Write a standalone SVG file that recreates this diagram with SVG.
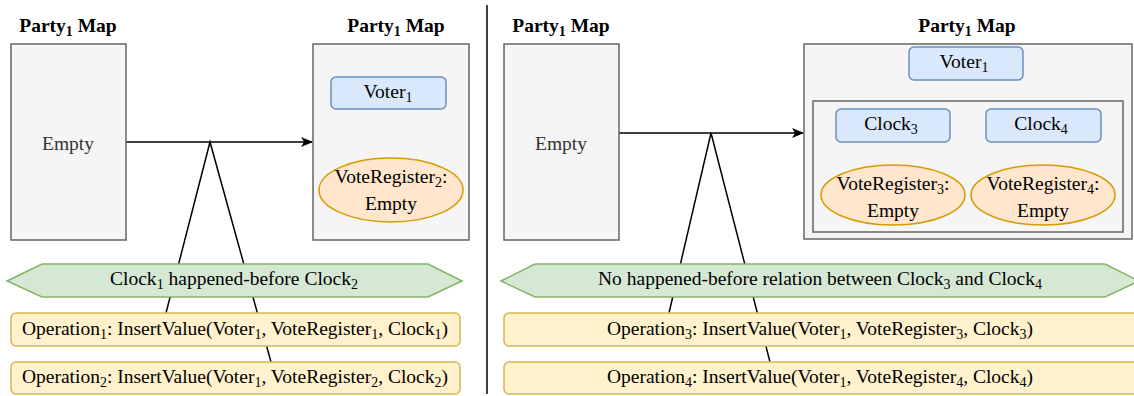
<svg xmlns="http://www.w3.org/2000/svg" width="1134" height="396" viewBox="0 0 1134 396">
  <defs>
    <marker id="arrow" viewBox="0 0 12 10" refX="11" refY="5" markerWidth="12" markerHeight="10" markerUnits="userSpaceOnUse" orient="auto">
      <path d="M0,0 L12,5 L0,10 L3,5 Z" fill="#000"/>
    </marker>
  </defs>
  <style>
    .lbl { font-size: 19.5px; fill: #000; }
    .title { font-weight: bold; }
    .sub { font-size: 14px; }
    .grey { fill: #333; }
    .map { fill: #f5f5f5; stroke: #666; stroke-width: 1.5; }
    .blue { fill: #dae8fc; stroke: #6c8ebf; stroke-width: 1.5; }
    .orange { fill: #ffe6cc; stroke: #d79b00; stroke-width: 1.5; }
    .green { fill: #d5e8d4; stroke: #82b366; stroke-width: 1.5; }
    .yellow { fill: #fff2cc; stroke: #d6b656; stroke-width: 1.5; }
    .edge { fill: none; stroke: #000; stroke-width: 1.5; }
  </style>
  <rect width="1134" height="396" fill="#fff"/>

  <!-- merge lines (behind boxes) -->
  <g id="connectors">
    <path class="edge" d="M166,313 L210,142 L271,362"/>
    <path class="edge" d="M669,313 L711,133 L770,362"/>
    <path class="edge" d="M126,142 L312,142" marker-end="url(#arrow)"/>
    <path class="edge" d="M619,133 L803,133" marker-end="url(#arrow)"/>
    <path class="edge" d="M390,109 L390,157" marker-end="url(#arrow)"/>
    <path class="edge" d="M966,80 L966,100" marker-end="url(#arrow)"/>
    <path class="edge" d="M893,142 L893,164" marker-end="url(#arrow)"/>
    <path class="edge" d="M1043,142 L1043,164" marker-end="url(#arrow)"/>
    <path class="edge" d="M487,5 L487,394"/>
  </g>

  <g font-family="Liberation Serif, Times New Roman, serif">
  <!-- left scenario -->
  <g id="map-before-left">
    <text class="lbl title" x="68" y="32" text-anchor="middle">Party<tspan class="sub" dy="4">1</tspan><tspan dy="-4"> Map</tspan></text>
    <rect class="map" x="11" y="44" width="115" height="196"/>
    <text class="lbl grey" x="68" y="150" text-anchor="middle">Empty</text>
  </g>

  <g id="map-after-left">
    <text class="lbl title" x="396" y="32" text-anchor="middle">Party<tspan class="sub" dy="4">1</tspan><tspan dy="-4"> Map</tspan></text>
    <rect class="map" x="313" y="44" width="156" height="196"/>
  </g>
  <g id="voter-left">
    <rect class="blue" x="331" y="77" width="115" height="32" rx="5"/>
    <text class="lbl" x="388" y="98" text-anchor="middle">Voter<tspan class="sub" dy="4">1</tspan></text>
  </g>
  <g id="register2">
    <ellipse class="orange" cx="391" cy="190" rx="72" ry="32"/>
    <text class="lbl" x="391" y="183" text-anchor="middle">VoteRegister<tspan class="sub" dy="4">2</tspan><tspan dy="-4">:</tspan></text>
    <text class="lbl" x="391" y="210" text-anchor="middle">Empty</text>
  </g>

  <g id="relation-left">
    <polygon class="green" points="7,281 42,264 428,264 462,281 428,297 42,297"/>
    <text class="lbl" x="234" y="285" text-anchor="middle">Clock<tspan class="sub" dy="4">1</tspan><tspan dy="-4"> happened-before Clock</tspan><tspan class="sub" dy="4">2</tspan></text>
  </g>
  <g id="operation1">
    <rect class="yellow" x="11" y="313" width="449" height="33" rx="5"/>
    <text class="lbl" x="235" y="335" text-anchor="middle">Operation<tspan class="sub" dy="4">1</tspan><tspan dy="-4">: InsertValue(Voter</tspan><tspan class="sub" dy="4">1</tspan><tspan dy="-4">, VoteRegister</tspan><tspan class="sub" dy="4">1</tspan><tspan dy="-4">, Clock</tspan><tspan class="sub" dy="4">1</tspan><tspan dy="-4">)</tspan></text>
  </g>
  <g id="operation2">
    <rect class="yellow" x="11" y="362" width="449" height="32" rx="5"/>
    <text class="lbl" x="235" y="383" text-anchor="middle">Operation<tspan class="sub" dy="4">2</tspan><tspan dy="-4">: InsertValue(Voter</tspan><tspan class="sub" dy="4">1</tspan><tspan dy="-4">, VoteRegister</tspan><tspan class="sub" dy="4">2</tspan><tspan dy="-4">, Clock</tspan><tspan class="sub" dy="4">2</tspan><tspan dy="-4">)</tspan></text>
  </g>

  <!-- right scenario -->
  <g id="map-before-right">
    <text class="lbl title" x="561" y="32" text-anchor="middle">Party<tspan class="sub" dy="4">1</tspan><tspan dy="-4"> Map</tspan></text>
    <rect class="map" x="504" y="44" width="115" height="196"/>
    <text class="lbl grey" x="561" y="150" text-anchor="middle">Empty</text>
  </g>

  <g id="map-after-right">
    <text class="lbl title" x="967" y="32" text-anchor="middle">Party<tspan class="sub" dy="4">1</tspan><tspan dy="-4"> Map</tspan></text>
    <rect class="map" x="804" y="44" width="328" height="195"/>
  </g>
  <g id="voter-right">
    <rect class="blue" x="909" y="47" width="114" height="33" rx="5"/>
    <text class="lbl" x="964" y="68" text-anchor="middle">Voter<tspan class="sub" dy="4">1</tspan></text>
  </g>
  <g id="clock-group">
    <rect class="map" x="813" y="101" width="310" height="131"/>
  </g>
  <g id="clock3">
    <rect class="blue" x="836" y="109" width="114" height="33" rx="5"/>
    <text class="lbl" x="891" y="130" text-anchor="middle">Clock<tspan class="sub" dy="4">3</tspan></text>
  </g>
  <g id="clock4">
    <rect class="blue" x="986" y="109" width="115" height="33" rx="5"/>
    <text class="lbl" x="1041" y="130" text-anchor="middle">Clock<tspan class="sub" dy="4">4</tspan></text>
  </g>
  <g id="register3">
    <ellipse class="orange" cx="893" cy="195" rx="72" ry="30"/>
    <text class="lbl" x="893" y="190" text-anchor="middle">VoteRegister<tspan class="sub" dy="4">3</tspan><tspan dy="-4">:</tspan></text>
    <text class="lbl" x="893" y="217" text-anchor="middle">Empty</text>
  </g>
  <g id="register4">
    <ellipse class="orange" cx="1043" cy="195" rx="72" ry="30"/>
    <text class="lbl" x="1043" y="190" text-anchor="middle">VoteRegister<tspan class="sub" dy="4">4</tspan><tspan dy="-4">:</tspan></text>
    <text class="lbl" x="1043" y="217" text-anchor="middle">Empty</text>
  </g>

  <g id="relation-right">
    <polygon class="green" points="501,281 535,264 1105,264 1139,281 1105,297 535,297"/>
    <text class="lbl" x="820" y="285" text-anchor="middle">No happened-before relation between Clock<tspan class="sub" dy="4">3</tspan><tspan dy="-4"> and Clock</tspan><tspan class="sub" dy="4">4</tspan></text>
  </g>
  <g id="operation3">
    <rect class="yellow" x="504" y="313" width="634" height="33" rx="5"/>
    <text class="lbl" x="820" y="335" text-anchor="middle">Operation<tspan class="sub" dy="4">3</tspan><tspan dy="-4">: InsertValue(Voter</tspan><tspan class="sub" dy="4">1</tspan><tspan dy="-4">, VoteRegister</tspan><tspan class="sub" dy="4">3</tspan><tspan dy="-4">, Clock</tspan><tspan class="sub" dy="4">3</tspan><tspan dy="-4">)</tspan></text>
  </g>
  <g id="operation4">
    <rect class="yellow" x="504" y="362" width="634" height="32" rx="5"/>
    <text class="lbl" x="820" y="383" text-anchor="middle">Operation<tspan class="sub" dy="4">4</tspan><tspan dy="-4">: InsertValue(Voter</tspan><tspan class="sub" dy="4">1</tspan><tspan dy="-4">, VoteRegister</tspan><tspan class="sub" dy="4">4</tspan><tspan dy="-4">, Clock</tspan><tspan class="sub" dy="4">4</tspan><tspan dy="-4">)</tspan></text>
  </g>
  </g>
</svg>
